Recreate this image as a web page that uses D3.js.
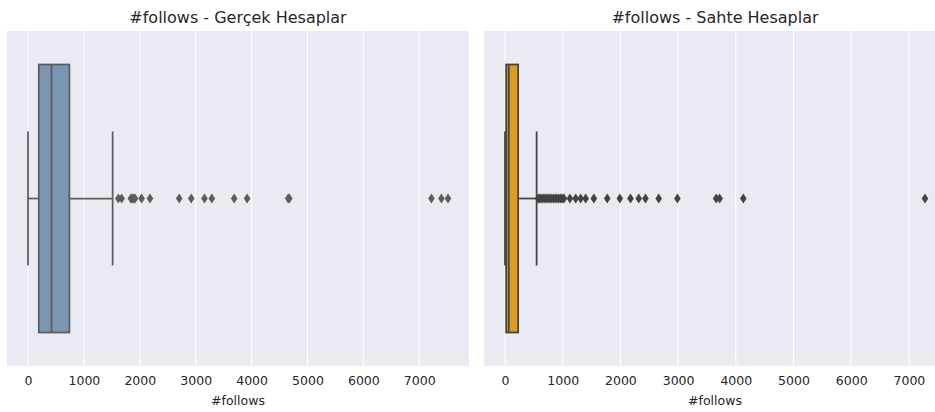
<!DOCTYPE html>
<html>
<head>
<meta charset="utf-8">
<script src="https://cdn.jsdelivr.net/npm/d3@7"></script>
<style>
  body { margin: 0; background: #fff; }
  text { font-family: "DejaVu Sans", sans-serif; fill: #262626; }
</style>
</head>
<body>
<div id="chart"></div>
<script>
// Panel titles and axis label
var titles = ["#follows - Gerçek Hesaplar", "#follows - Sahte Hesaplar"];
var xLabel = "#follows";
var tickValues = [0, 1000, 2000, 3000, 4000, 5000, 6000, 7000];

// Box statistics: [whiskerLow, q1, median, q3, whiskerHigh]
var realStats = [0, 193, 420, 741, 1514];
var fakeStats = [0, 20, 65, 228, 548];

// Outliers
var realOutliers = [1616, 1675, 1840, 1860, 1880, 1900, 1914, 2032, 2182, 2705, 2920,
  3157, 3289, 3688, 3920, 4655, 4675, 7218, 7396, 7514];
var fakeOutliers = [575, 600, 630, 660, 690, 720, 750, 780, 810, 840, 870, 900, 930, 960, 990,
  1021, 1125, 1225, 1311, 1398, 1540, 1772, 1990, 2175, 2318, 2434, 2664, 2988,
  3660, 3720, 4130, 7279];

var boxColors = ["#7a96b2", "#de9c1f"];
var lineColors = ["#5c5c5c", "#434343"];

var svgWidth = 935, svgHeight = 412;
var svg = d3.select("#chart").append("svg")
  .attr("width", svgWidth)
  .attr("height", svgHeight);

var panels = [
  { left: 7, stats: realStats, outliers: realOutliers },
  { left: 484, stats: fakeStats, outliers: fakeOutliers }
];
var plotWidth = 462;
var plotTop = 31, plotHeight = 335;

panels.forEach(function(p, i) {
  var lo = Math.min(p.stats[0], d3.min(p.outliers));
  var hi = Math.max(p.stats[4], d3.max(p.outliers));
  var pad = (hi - lo) * 0.05;

  var x = d3.scaleLinear()
    .domain([lo - pad, hi + pad])
    .range([0, plotWidth]);
  var y = d3.scaleLinear()
    .domain([-0.5, 0.5])
    .range([0, plotHeight]);

  var g = svg.append("g")
    .attr("transform", `translate(${p.left}, ${plotTop})`);

  // background
  g.append("rect")
    .attr("width", plotWidth)
    .attr("height", plotHeight)
    .attr("fill", "#eaeaf2");

  // grid lines
  g.selectAll(".grid")
    .data(tickValues)
    .enter()
    .append("line")
    .attr("x1", d => x(d))
    .attr("x2", d => x(d))
    .attr("y1", 0)
    .attr("y2", plotHeight)
    .attr("stroke", "#fff")
    .attr("stroke-width", 1);

  // bottom axis (labels only)
  var axis = g.append("g")
    .attr("transform", `translate(0, ${plotHeight})`)
    .call(d3.axisBottom(x).tickValues(tickValues).tickSize(0).tickPadding(10).tickFormat(d3.format("d")));
  axis.select(".domain").remove();
  axis.selectAll("text")
    .style("font-size", "12.5px")
    .style("font-family", "DejaVu Sans, sans-serif")
    .attr("fill", "#262626");

  g.append("text")
    .attr("x", plotWidth / 2)
    .attr("y", plotHeight + 39)
    .attr("text-anchor", "middle")
    .style("font-size", "12.5px")
    .text(xLabel);

  g.append("text")
    .attr("x", plotWidth / 2)
    .attr("y", -8)
    .attr("text-anchor", "middle")
    .style("font-size", "16px")
    .text(titles[i]);

  var s = p.stats;
  var lc = lineColors[i];
  var lw = 1.75;

  // whiskers
  g.append("line")
    .attr("x1", x(s[0])).attr("x2", x(s[1]))
    .attr("y1", y(0)).attr("y2", y(0))
    .attr("stroke", lc).attr("stroke-width", lw);
  g.append("line")
    .attr("x1", x(s[3])).attr("x2", x(s[4]))
    .attr("y1", y(0)).attr("y2", y(0))
    .attr("stroke", lc).attr("stroke-width", lw);

  // caps
  [s[0], s[4]].forEach(function(v) {
    g.append("line")
      .attr("x1", x(v)).attr("x2", x(v))
      .attr("y1", y(-0.2)).attr("y2", y(0.2))
      .attr("stroke", lc).attr("stroke-width", lw);
  });

  // box
  g.append("rect")
    .attr("x", x(s[1]))
    .attr("y", y(-0.4))
    .attr("width", x(s[3]) - x(s[1]))
    .attr("height", y(0.4) - y(-0.4))
    .attr("fill", boxColors[i])
    .attr("stroke", lc)
    .attr("stroke-width", lw);

  // median
  g.append("line")
    .attr("x1", x(s[2])).attr("x2", x(s[2]))
    .attr("y1", y(-0.4)).attr("y2", y(0.4))
    .attr("stroke", lc).attr("stroke-width", lw);

  // outliers as thin diamonds
  g.selectAll(".flier")
    .data(p.outliers)
    .enter()
    .append("path")
    .attr("class", "flier")
    .attr("transform", d => `translate(${x(d)}, ${y(0)})`)
    .attr("d", "M0,-5L3.3,0L0,5L-3.3,0Z")
    .attr("fill", lc);
});
</script>
</body>
</html>
